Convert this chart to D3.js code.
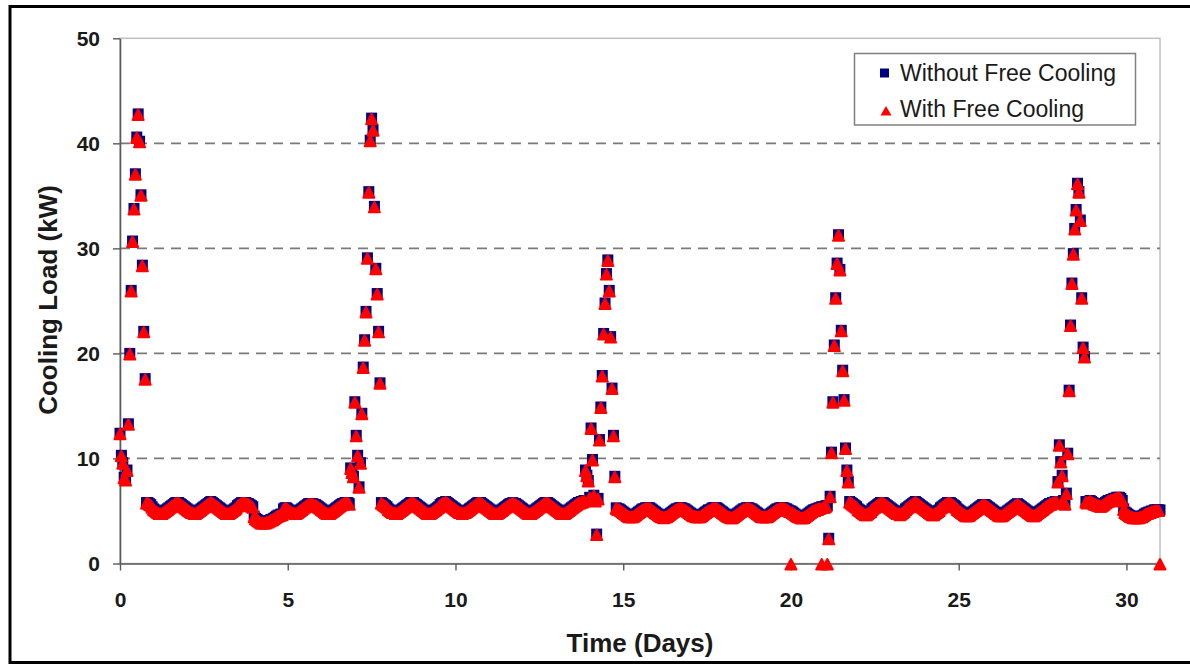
<!DOCTYPE html>
<html><head><meta charset="utf-8">
<script src="https://cdn.jsdelivr.net/npm/d3@7"></script>
<style>body{margin:0;background:#fff}svg{display:block}</style>
</head><body>
<svg id="chart" width="1190" height="665"></svg>
<script>
// ---- data (hourly readings, one row per day: hours 0..23; last entry = hour 744 = day 31) ----
const yTickValues = [0, 10, 20, 30, 40, 50];
const xTickValues = [0, 5, 10, 15, 20, 25, 30];
const seriesNames = ["Without Free Cooling", "With Free Cooling"];
const axisTitles = { x: "Time (Days)", y: "Cooling Load (kW)" };

const withoutFreeCooling = [
12.4,10.3,9.6,8.2,8.0,8.9,13.3,20.0,26.0,30.7,33.8,37.1,40.6,42.8,40.2,35.1,28.4,22.1,17.6,5.8,5.8,5.7,5.6,5.4,
5.2,5.1,5.0,4.9,4.8,4.8,4.8,4.9,5.0,5.1,5.2,5.3,5.4,5.5,5.6,5.7,5.8,5.8,5.8,5.7,5.6,5.5,5.4,5.3,
5.2,5.1,5.0,4.9,4.9,4.8,4.8,4.9,5.0,5.1,5.2,5.3,5.4,5.5,5.6,5.7,5.8,5.9,5.8,5.7,5.6,5.5,5.4,5.3,
5.2,5.1,5.0,4.9,4.8,4.8,4.8,4.9,5.0,5.1,5.2,5.3,5.5,5.6,5.7,5.8,5.8,5.8,5.8,5.7,5.7,5.6,5.5,5.4,
4.5,4.3,4.2,4.1,4.0,3.9,3.9,3.9,3.9,4.0,4.0,4.1,4.2,4.2,4.3,4.4,4.5,4.6,4.6,4.7,4.7,5.2,5.3,5.3,
5.2,5.1,5.0,4.9,4.9,4.8,4.8,4.9,5.0,5.1,5.2,5.3,5.4,5.5,5.6,5.7,5.7,5.7,5.7,5.6,5.6,5.5,5.4,5.3,
5.2,5.1,5.0,4.9,4.8,4.8,4.8,4.9,5.0,5.1,5.2,5.3,5.4,5.5,5.6,5.7,5.7,5.8,5.8,5.8,5.7,9.1,8.7,8.3,
15.4,12.2,10.3,7.3,9.6,14.3,18.7,21.3,24.0,29.1,35.4,40.3,42.4,41.3,34.0,28.1,25.7,22.1,17.2,5.8,5.7,5.6,5.5,5.4,
5.2,5.1,5.0,4.9,4.9,4.8,4.8,4.9,5.0,5.1,5.2,5.3,5.4,5.5,5.6,5.7,5.8,5.8,5.8,5.7,5.6,5.5,5.4,5.3,
5.2,5.1,5.0,4.9,4.8,4.8,4.8,4.9,5.0,5.1,5.2,5.3,5.4,5.6,5.7,5.8,5.8,5.9,5.8,5.7,5.6,5.5,5.4,5.3,
5.2,5.1,5.0,4.9,4.9,4.8,4.9,4.9,5.0,5.1,5.2,5.3,5.4,5.5,5.6,5.7,5.8,5.8,5.8,5.7,5.6,5.5,5.4,5.3,
5.2,5.1,5.0,4.9,4.8,4.8,4.8,4.9,5.0,5.1,5.2,5.3,5.4,5.5,5.6,5.7,5.7,5.8,5.7,5.7,5.6,5.5,5.4,5.3,
5.2,5.1,5.0,4.9,4.8,4.8,4.8,4.9,5.0,5.1,5.2,5.3,5.4,5.5,5.6,5.7,5.8,5.8,5.8,5.7,5.6,5.5,5.4,5.3,
5.2,5.1,5.0,4.9,4.8,4.8,4.8,4.9,5.0,5.1,5.2,5.3,5.4,5.5,5.6,5.7,5.8,5.8,5.9,5.9,6.0,8.9,8.4,7.9,
6.3,12.9,9.9,6.5,6.0,2.8,6.2,11.8,14.9,17.9,21.9,24.8,27.6,28.9,26.0,21.6,16.7,12.2,8.3,5.3,5.2,5.2,5.1,5.0,
4.9,4.8,4.7,4.6,4.5,4.5,4.5,4.5,4.6,4.7,4.8,4.9,5.0,5.1,5.2,5.2,5.3,5.3,5.3,5.3,5.2,5.1,5.0,4.9,
4.8,4.7,4.6,4.5,4.5,4.4,4.5,4.5,4.6,4.7,4.8,4.9,5.0,5.1,5.2,5.2,5.3,5.3,5.3,5.2,5.2,5.1,5.0,4.9,
4.8,4.7,4.6,4.6,4.5,4.5,4.5,4.5,4.6,4.7,4.8,4.9,5.0,5.1,5.1,5.2,5.3,5.3,5.3,5.3,5.2,5.1,5.0,4.9,
4.8,4.7,4.6,4.5,4.5,4.4,4.4,4.5,4.6,4.7,4.8,4.9,5.0,5.1,5.2,5.2,5.3,5.3,5.3,5.2,5.2,5.1,5.0,4.9,
4.8,4.7,4.6,4.5,4.5,4.5,4.5,4.5,4.6,4.7,4.8,4.9,5.0,5.1,5.2,5.2,5.3,5.3,5.3,5.3,5.2,5.2,5.1,5.0,
5.0,4.9,4.8,4.7,4.6,4.5,4.5,4.4,4.4,4.4,4.5,4.6,4.7,4.8,4.9,5.0,5.1,5.1,5.2,5.2,5.3,5.3,5.4,5.4,
5.4,5.5,5.5,2.4,6.4,10.6,15.4,20.8,25.3,28.6,31.3,28.0,22.2,18.4,15.6,11.0,8.9,7.8,5.9,5.8,5.7,5.6,5.5,5.4,
5.2,5.1,5.0,4.9,4.8,4.7,4.7,4.8,4.9,5.0,5.2,5.3,5.4,5.5,5.6,5.7,5.8,5.8,5.8,5.7,5.6,5.5,5.4,5.3,
5.2,5.1,5.0,4.9,4.8,4.8,4.7,4.8,4.9,5.0,5.2,5.3,5.4,5.5,5.6,5.7,5.8,5.9,5.8,5.7,5.6,5.5,5.4,5.3,
5.2,5.1,5.0,4.9,4.8,4.7,4.7,4.8,4.9,5.0,5.1,5.3,5.4,5.5,5.6,5.7,5.8,5.8,5.8,5.7,5.6,5.5,5.4,5.2,
5.1,5.0,4.9,4.8,4.7,4.6,4.6,4.6,4.7,4.8,4.9,5.0,5.1,5.2,5.3,5.4,5.5,5.6,5.6,5.6,5.5,5.4,5.3,5.2,
5.1,5.0,4.9,4.8,4.7,4.6,4.6,4.6,4.7,4.8,4.9,5.0,5.1,5.2,5.3,5.4,5.5,5.6,5.7,5.6,5.5,5.4,5.3,5.2,
5.1,5.0,4.9,4.8,4.7,4.6,4.6,4.7,4.8,4.9,5.0,5.1,5.2,5.3,5.4,5.5,5.6,5.7,5.7,5.8,5.8,5.9,5.9,7.8,
11.3,9.7,8.4,6.0,5.7,6.7,10.5,16.5,22.7,26.7,29.5,31.9,33.7,36.2,35.4,32.7,25.3,20.6,19.7,5.9,5.8,5.9,6.0,5.9,
5.8,5.7,5.7,5.6,5.6,5.5,5.5,5.6,5.7,5.8,5.9,6.0,6.0,6.1,6.1,6.2,6.2,6.3,6.3,6.3,6.2,6.0,5.2,4.9,
4.8,4.7,4.6,4.5,4.5,4.4,4.4,4.4,4.4,4.4,4.5,4.5,4.6,4.7,4.8,4.8,4.9,4.9,5.0,5.0,5.1,5.1,5.1,5.1,
5.1
];

const withFreeCooling = [
12.4,10.3,9.6,8.2,8.0,8.9,13.3,20.0,26.0,30.7,33.8,37.1,40.6,42.8,40.2,35.1,28.4,22.1,17.6,5.8,5.8,5.7,5.6,5.4,
5.2,5.1,5.0,4.9,4.8,4.8,4.8,4.9,5.0,5.1,5.2,5.3,5.4,5.5,5.6,5.7,5.8,5.8,5.8,5.7,5.6,5.5,5.4,5.3,
5.2,5.1,5.0,4.9,4.9,4.8,4.8,4.9,5.0,5.1,5.2,5.3,5.4,5.5,5.6,5.7,5.8,5.9,5.8,5.7,5.6,5.5,5.4,5.3,
5.2,5.1,5.0,4.9,4.8,4.8,4.8,4.9,5.0,5.1,5.2,5.3,5.5,5.6,5.7,5.8,5.8,5.8,5.8,5.7,5.7,5.6,5.5,5.4,
4.5,4.3,4.2,4.1,4.0,3.9,3.9,3.9,3.9,4.0,4.0,4.1,4.2,4.2,4.3,4.4,4.5,4.6,4.6,4.7,4.7,5.2,5.3,5.3,
5.2,5.1,5.0,4.9,4.9,4.8,4.8,4.9,5.0,5.1,5.2,5.3,5.4,5.5,5.6,5.7,5.7,5.7,5.7,5.6,5.6,5.5,5.4,5.3,
5.2,5.1,5.0,4.9,4.8,4.8,4.8,4.9,5.0,5.1,5.2,5.3,5.4,5.5,5.6,5.7,5.7,5.8,5.8,5.8,5.7,9.1,8.7,8.3,
15.4,12.2,10.3,7.3,9.6,14.3,18.7,21.3,24.0,29.1,35.4,40.3,42.4,41.3,34.0,28.1,25.7,22.1,17.2,5.8,5.7,5.6,5.5,5.4,
5.2,5.1,5.0,4.9,4.9,4.8,4.8,4.9,5.0,5.1,5.2,5.3,5.4,5.5,5.6,5.7,5.8,5.8,5.8,5.7,5.6,5.5,5.4,5.3,
5.2,5.1,5.0,4.9,4.8,4.8,4.8,4.9,5.0,5.1,5.2,5.3,5.4,5.6,5.7,5.8,5.8,5.9,5.8,5.7,5.6,5.5,5.4,5.3,
5.2,5.1,5.0,4.9,4.9,4.8,4.9,4.9,5.0,5.1,5.2,5.3,5.4,5.5,5.6,5.7,5.8,5.8,5.8,5.7,5.6,5.5,5.4,5.3,
5.2,5.1,5.0,4.9,4.8,4.8,4.8,4.9,5.0,5.1,5.2,5.3,5.4,5.5,5.6,5.7,5.7,5.8,5.7,5.7,5.6,5.5,5.4,5.3,
5.2,5.1,5.0,4.9,4.8,4.8,4.8,4.9,5.0,5.1,5.2,5.3,5.4,5.5,5.6,5.7,5.8,5.8,5.8,5.7,5.6,5.5,5.4,5.3,
5.2,5.1,5.0,4.9,4.8,4.8,4.8,4.9,5.0,5.1,5.2,5.3,5.4,5.5,5.6,5.7,5.8,5.8,5.9,5.9,6.0,8.9,8.4,7.9,
6.3,12.9,9.9,6.5,6.0,2.8,6.2,11.8,14.9,17.9,21.9,24.8,27.6,28.9,26.0,21.6,16.7,12.2,8.3,5.3,5.2,5.2,5.1,5.0,
4.9,4.8,4.7,4.6,4.5,4.5,4.5,4.5,4.6,4.7,4.8,4.9,5.0,5.1,5.2,5.2,5.3,5.3,5.3,5.3,5.2,5.1,5.0,4.9,
4.8,4.7,4.6,4.5,4.5,4.4,4.5,4.5,4.6,4.7,4.8,4.9,5.0,5.1,5.2,5.2,5.3,5.3,5.3,5.2,5.2,5.1,5.0,4.9,
4.8,4.7,4.6,4.6,4.5,4.5,4.5,4.5,4.6,4.7,4.8,4.9,5.0,5.1,5.1,5.2,5.3,5.3,5.3,5.3,5.2,5.1,5.0,4.9,
4.8,4.7,4.6,4.5,4.5,4.4,4.4,4.5,4.6,4.7,4.8,4.9,5.0,5.1,5.2,5.2,5.3,5.3,5.3,5.2,5.2,5.1,5.0,4.9,
4.8,4.7,4.6,4.5,4.5,4.5,4.5,4.5,4.6,4.7,4.8,4.9,5.0,5.1,5.2,5.2,5.3,5.3,5.3,5.3,5.2,5.2,5.1,5.0,
0.0,4.9,4.8,4.7,4.6,4.5,4.5,4.4,4.4,4.4,4.5,4.6,4.7,4.8,4.9,5.0,5.1,5.1,5.2,5.2,5.3,5.3,0.0,5.4,
5.4,5.5,0.0,2.4,6.4,10.6,15.4,20.8,25.3,28.6,31.3,28.0,22.2,18.4,15.6,11.0,8.9,7.8,5.9,5.8,5.7,5.6,5.5,5.4,
5.2,5.1,5.0,4.9,4.8,4.7,4.7,4.8,4.9,5.0,5.2,5.3,5.4,5.5,5.6,5.7,5.8,5.8,5.8,5.7,5.6,5.5,5.4,5.3,
5.2,5.1,5.0,4.9,4.8,4.8,4.7,4.8,4.9,5.0,5.2,5.3,5.4,5.5,5.6,5.7,5.8,5.9,5.8,5.7,5.6,5.5,5.4,5.3,
5.2,5.1,5.0,4.9,4.8,4.7,4.7,4.8,4.9,5.0,5.1,5.3,5.4,5.5,5.6,5.7,5.8,5.8,5.8,5.7,5.6,5.5,5.4,5.2,
5.1,5.0,4.9,4.8,4.7,4.6,4.6,4.6,4.7,4.8,4.9,5.0,5.1,5.2,5.3,5.4,5.5,5.6,5.6,5.6,5.5,5.4,5.3,5.2,
5.1,5.0,4.9,4.8,4.7,4.6,4.6,4.6,4.7,4.8,4.9,5.0,5.1,5.2,5.3,5.4,5.5,5.6,5.7,5.6,5.5,5.4,5.3,5.2,
5.1,5.0,4.9,4.8,4.7,4.6,4.6,4.7,4.8,4.9,5.0,5.1,5.2,5.3,5.4,5.5,5.6,5.7,5.7,5.8,5.8,5.9,5.9,7.8,
11.3,9.7,8.4,6.0,5.7,6.7,10.5,16.5,22.7,26.7,29.5,31.9,33.7,36.2,35.4,32.7,25.3,20.6,19.7,5.9,5.8,5.9,6.0,5.9,
5.8,5.7,5.7,5.6,5.6,5.5,5.5,5.6,5.7,5.8,5.9,6.0,6.0,6.1,6.1,6.2,6.2,6.3,6.3,6.3,6.2,6.0,5.2,4.9,
4.8,4.7,4.6,4.5,4.5,4.4,4.4,4.4,4.4,4.4,4.5,4.5,4.6,4.7,4.8,4.8,4.9,4.9,5.0,5.0,5.1,5.1,5.1,5.1,
0.0
];

// ---- drawing ----
const FONT = "'Liberation Sans', Arial, Helvetica, sans-serif";
const svg = d3.select("#chart");
svg.append("rect").attr("width", 1190).attr("height", 665).attr("fill", "#fff");

// outer frame
svg.append("rect").attr("x", 10).attr("y", 6.5).attr("width", 1200).attr("height", 656)
  .attr("fill", "none").attr("stroke", "#000").attr("stroke-width", 3);

const plot = { left: 120, right: 1160, top: 38.3, bottom: 563.5 };
const x = d3.scaleLinear().domain([0, 31]).range([plot.left, plot.right]);
const y = d3.scaleLinear().domain([0, 50]).range([plot.bottom, plot.top]);
const hourToDay = h => h / 24;

// plot area border
svg.append("rect").attr("x", plot.left).attr("y", plot.top)
  .attr("width", plot.right - plot.left).attr("height", plot.bottom - plot.top)
  .attr("fill", "#fff").attr("stroke", "#c0c0c0").attr("stroke-width", 1.5);

// dashed gridlines
svg.append("g").selectAll("line").data(yTickValues.filter(v => v > 0 && v < 50)).join("line")
  .attr("x1", plot.left).attr("x2", plot.right)
  .attr("y1", d => y(d)).attr("y2", d => y(d))
  .attr("stroke", "#7a7a7a").attr("stroke-width", 1.7).attr("stroke-dasharray", "10,7");

// axes
const yAxis = svg.append("g").attr("transform", `translate(${plot.left},0)`)
  .call(d3.axisLeft(y).tickValues(yTickValues).tickSize(7).tickSizeOuter(0).tickPadding(13));
const xAxis = svg.append("g").attr("transform", `translate(0,${plot.bottom})`)
  .call(d3.axisBottom(x).tickValues(xTickValues).tickSize(7).tickSizeOuter(0).tickPadding(22));
[yAxis, xAxis].forEach(g => {
  g.select(".domain").attr("stroke", "#5a5a5a").attr("stroke-width", 1.6);
  g.selectAll(".tick line").attr("stroke", "#5a5a5a").attr("stroke-width", 1.4);
  g.selectAll(".tick text").attr("font-family", FONT).attr("font-size", 21)
    .attr("font-weight", "bold").attr("fill", "#1a1a1a");
});

// axis titles
svg.append("text").attr("x", 640).attr("y", 652).attr("text-anchor", "middle")
  .attr("font-family", FONT).attr("font-size", 26).attr("font-weight", "bold").attr("fill", "#1a1a1a")
  .text(axisTitles.x);
svg.append("text").attr("transform", "translate(57,300) rotate(-90)").attr("text-anchor", "middle")
  .attr("font-family", FONT).attr("font-size", 26).attr("font-weight", "bold").attr("fill", "#1a1a1a")
  .text(axisTitles.y);

// markers
const sq = 11;
const triPath = (cx, cy) => `M${cx - 5.5},${cy + 6}L${cx + 5.5},${cy + 6}L${cx},${cy - 4.5}Z`;
svg.append("g").selectAll("rect").data(withoutFreeCooling).join("rect")
  .attr("x", (d, i) => x(hourToDay(i)) - sq / 2).attr("y", d => y(d) - sq / 2)
  .attr("width", sq).attr("height", sq).attr("fill", "#000080");
svg.append("g").selectAll("path").data(withFreeCooling).join("path")
  .attr("d", (d, i) => triPath(x(hourToDay(i)), y(d)))
  .attr("fill", "#ff0000").attr("stroke", "#ff0000").attr("stroke-width", 2)
  .attr("stroke-linejoin", "round");

// legend
const lg = svg.append("g");
lg.append("rect").attr("x", 854.5).attr("y", 53.5).attr("width", 281).attr("height", 71.5)
  .attr("fill", "#fff").attr("stroke", "#808080").attr("stroke-width", 1.5);
lg.append("rect").attr("x", 880).attr("y", 68.5).attr("width", 9).attr("height", 9).attr("fill", "#000080");
lg.append("path").attr("d", "M880.5,115.5L891.5,115.5L886,106Z").attr("fill", "#ff0000");
lg.selectAll("text.lt").data(seriesNames).join("text").attr("class", "lt")
  .attr("x", 900).attr("y", (d, i) => i === 0 ? 80.5 : 117)
  .attr("font-family", FONT).attr("font-size", 23).attr("fill", "#1a1a1a")
  .text(d => d);
</script>
</body></html>
